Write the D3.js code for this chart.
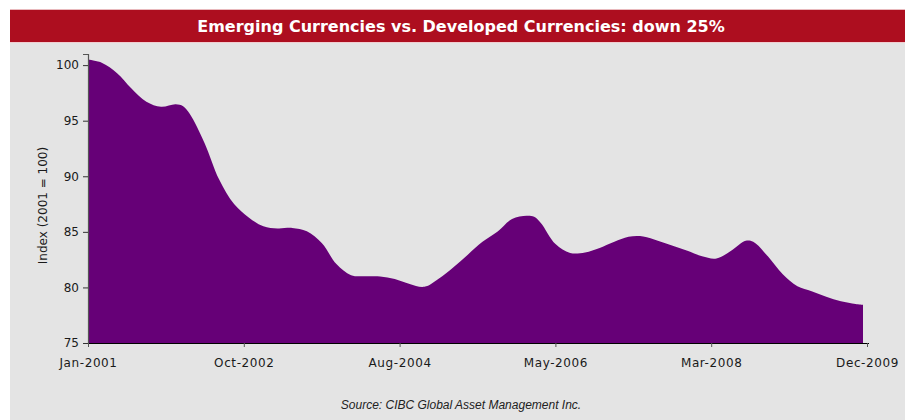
<!DOCTYPE html>
<html>
<head>
<meta charset="utf-8">
<script src="https://cdn.jsdelivr.net/npm/d3@7"></script>
<style>
  html, body { margin: 0; padding: 0; background: #ffffff; }
  svg { display: block; }
  .tick text { font-family: "DejaVu Sans", sans-serif; font-size: 12px; fill: #1a1a1a; }
  .x-axis .tick text { letter-spacing: 0.6px; }
</style>
</head>
<body>
<div id="chart"></div>
<script>
// chart data (index, 2001 = 100)
const title = "Emerging Currencies vs. Developed Currencies: down 25%";
const yLabel = "Index (2001 = 100)";
const source = "Source: CIBC Global Asset Management Inc.";

const months = [
  "2001-01", "2001-03", "2001-05", "2001-07", "2001-09", "2001-11",
  "2002-01", "2002-02", "2002-03", "2002-05", "2002-07", "2002-09", "2002-11",
  "2003-01", "2003-03", "2003-05", "2003-07", "2003-09", "2003-11",
  "2004-01", "2004-03", "2004-05", "2004-07", "2004-09", "2004-11",
  "2005-01", "2005-03", "2005-05", "2005-07", "2005-09", "2005-11",
  "2006-01", "2006-02", "2006-03", "2006-05", "2006-07", "2006-09", "2006-11",
  "2007-01", "2007-03", "2007-05", "2007-07", "2007-09", "2007-11",
  "2008-01", "2008-03", "2008-05", "2008-07", "2008-08", "2008-10", "2008-12",
  "2009-02", "2009-04", "2009-06", "2009-08", "2009-10", "2009-11",
];
const values = [
  100.5, 100.2, 99.3, 97.9, 96.7, 96.25,
  96.48, 96.3, 95.6, 93.0, 89.7, 87.5, 86.3,
  85.5, 85.3, 85.35, 85.05, 84.0, 82.1,
  81.1, 81.0, 80.98, 80.75, 80.3, 80.05,
  80.8, 81.8, 82.95, 84.1, 85.0, 86.15,
  86.45, 86.35, 85.8, 83.9, 83.1, 83.15, 83.55,
  84.1, 84.55, 84.58, 84.2, 83.75, 83.3,
  82.8, 82.6, 83.3, 84.2, 84.1, 82.8, 81.2,
  80.1, 79.65, 79.15, 78.75, 78.5, 78.43,
];
const xTickLabels = ["Jan-2001", "Oct-2002", "Aug-2004", "May-2006", "Mar-2008", "Dec-2009"];
const yTicks = [75, 80, 85, 90, 95, 100];
const yDomain = [75, 101];

const width = 905;
const height = 420;
const margin = { top: 54, right: 38, bottom: 77, left: 88 };
const dataRightInset = 4;

const parseMonth = d3.timeParse("%Y-%m");
const data = months.map((m, i) => ({ date: parseMonth(m), value: values[i] }));

const svg = d3.select("#chart")
  .append("svg")
  .attr("width", width)
  .attr("height", height);

// panel + header band
svg.append("rect")
  .attr("x", 10).attr("y", 42)
  .attr("width", width - 10).attr("height", height - 42)
  .attr("fill", "#e4e4e4");
svg.append("rect")
  .attr("x", 10).attr("y", 9)
  .attr("width", width - 10).attr("height", 1)
  .attr("fill", "#e9b9bd");
svg.append("rect")
  .attr("x", 10).attr("y", 10)
  .attr("width", width - 10).attr("height", 32)
  .attr("fill", "#ad0e1f");
svg.append("rect")
  .attr("x", 10).attr("y", 42)
  .attr("width", width - 10).attr("height", 1)
  .attr("fill", "#f1cdd0");

svg.append("text")
  .attr("x", 461)
  .attr("y", 26)
  .attr("dy", "0.35em")
  .attr("text-anchor", "middle")
  .attr("fill", "#ffffff")
  .attr("font-family", "'DejaVu Sans', sans-serif")
  .attr("font-weight", "bold")
  .attr("font-size", 16)
  .text(title);

const plotLeft = margin.left;
const plotRight = width - margin.right;
const plotTop = margin.top;
const plotBottom = height - margin.bottom;

const x = d3.scaleTime()
  .domain(d3.extent(data, (d) => d.date))
  .range([plotLeft, plotRight - dataRightInset]);

const xAxisScale = d3.scalePoint()
  .domain(xTickLabels)
  .range([plotLeft, plotRight]);

const y = d3.scaleLinear()
  .domain(yDomain)
  .range([plotBottom, plotTop]);

const area = d3.area()
  .x((d) => x(d.date))
  .y0(y(yDomain[0]))
  .y1((d) => y(d.value))
  .curve(d3.curveCatmullRom.alpha(0.5));

svg.append("path")
  .datum(data)
  .attr("fill", "#660077")
  .attr("d", area);

// y axis
const yAxis = svg.append("g")
  .attr("transform", `translate(${plotLeft},0)`)
  .call(d3.axisLeft(y).tickValues(yTicks).tickSize(5).tickPadding(4));
yAxis.select(".domain").attr("stroke", "#555555").attr("stroke-width", 1.2);
yAxis.selectAll(".tick line").attr("stroke", "#333333");

// x axis
const xAxis = svg.append("g")
  .attr("class", "x-axis")
  .attr("transform", `translate(0,${plotBottom})`)
  .call(d3.axisBottom(xAxisScale).tickSize(4).tickPadding(11).tickSizeOuter(0));
xAxis.select(".domain")
  .attr("d", `M${plotLeft},0.5H${plotRight + 2}`)
  .attr("stroke", "#000000");
xAxis.selectAll(".tick line").attr("stroke", "#555555");

svg.append("text")
  .attr("transform", `translate(43,${(plotTop + plotBottom) / 2 + 7}) rotate(-90)`)
  .attr("text-anchor", "middle")
  .attr("dy", "0.35em")
  .attr("font-family", "'DejaVu Sans', sans-serif")
  .attr("font-size", 12)
  .attr("fill", "#1a1a1a")
  .text(yLabel);

svg.append("text")
  .attr("x", 461)
  .attr("y", 405)
  .attr("dy", "0.35em")
  .attr("text-anchor", "middle")
  .attr("font-family", "'Liberation Sans', Arial, sans-serif")
  .attr("font-style", "italic")
  .attr("font-size", 12)
  .attr("fill", "#222222")
  .text(source);
</script>
</body>
</html>
